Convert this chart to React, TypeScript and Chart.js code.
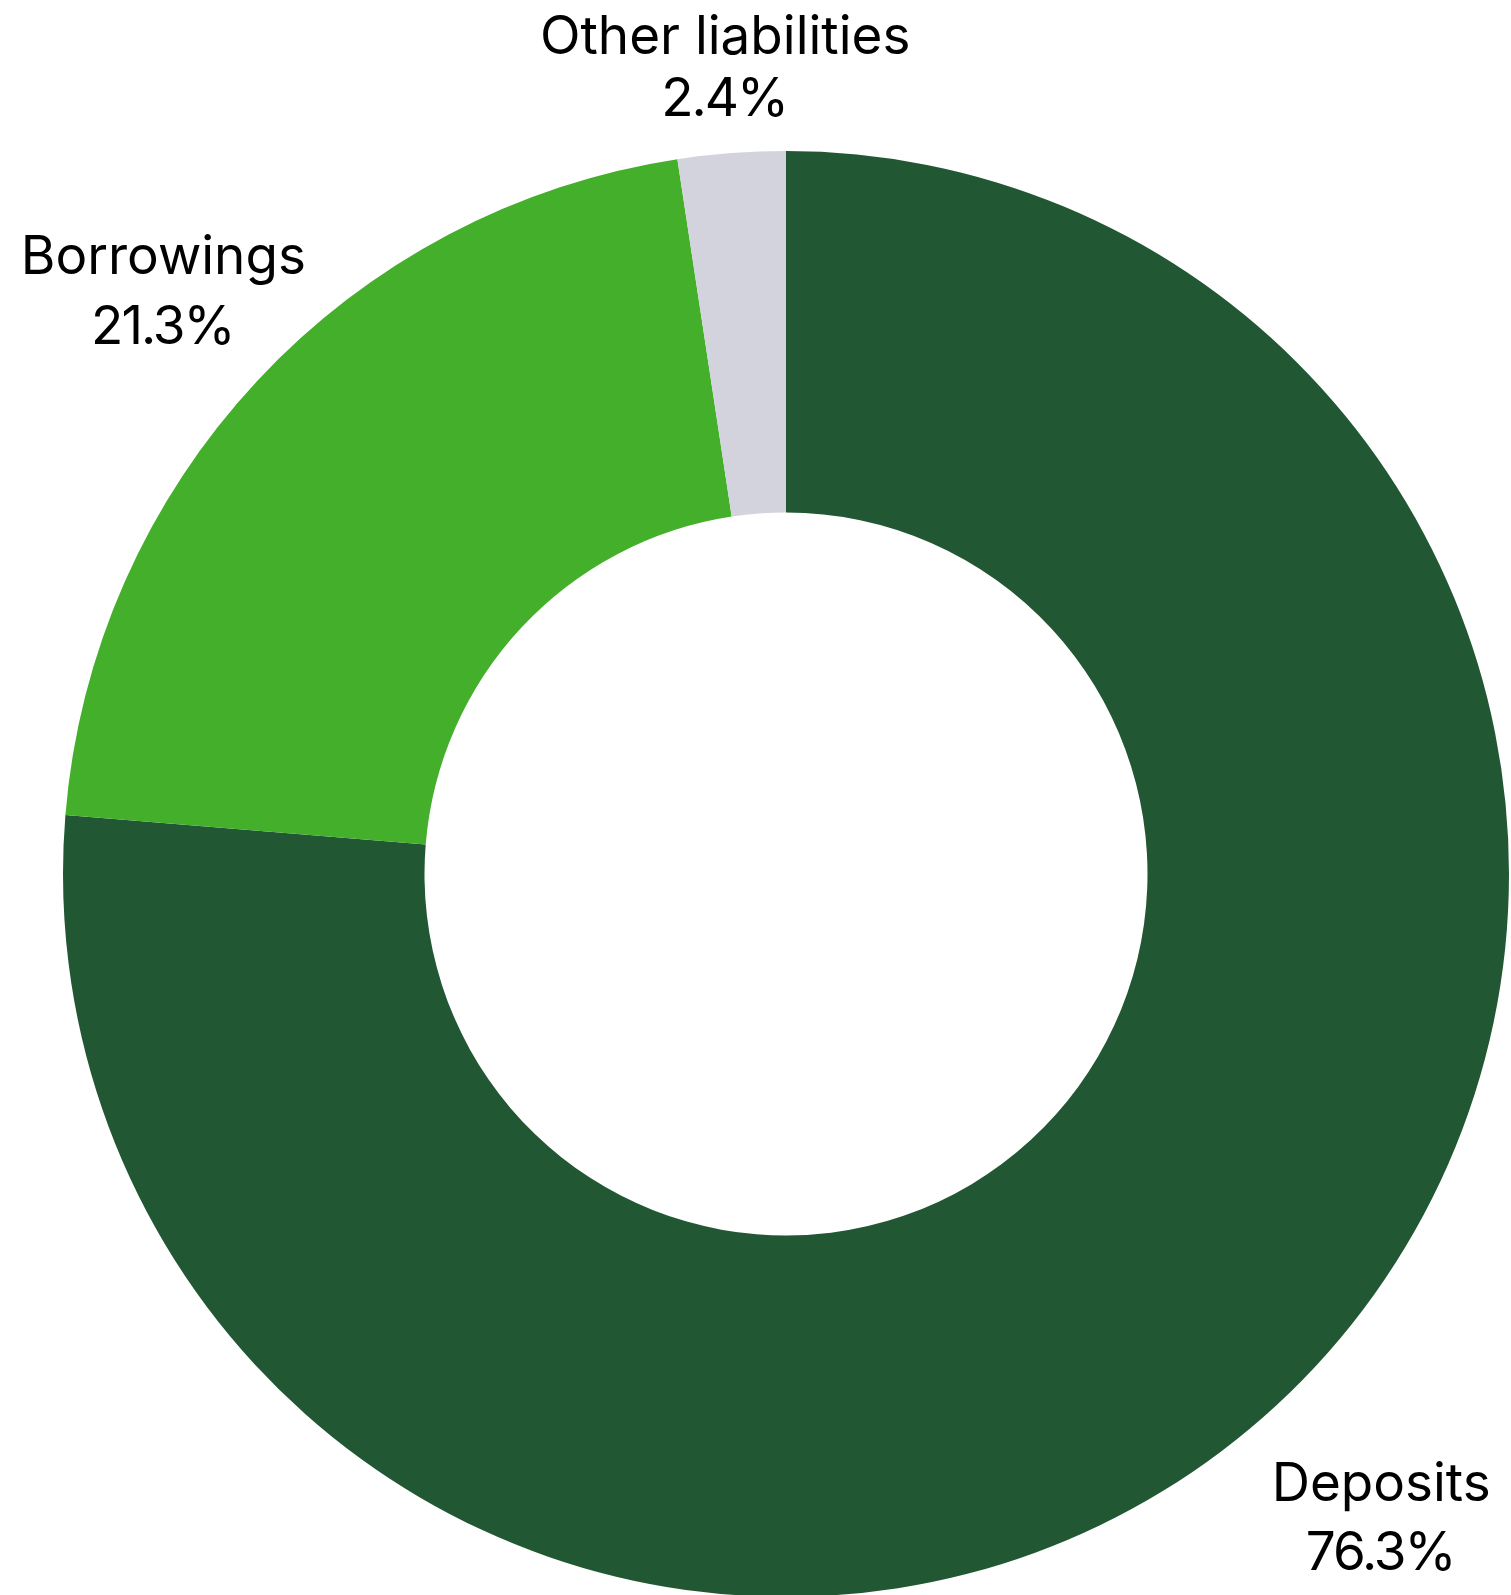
import React, { useEffect, useRef } from "react";
import { Chart, registerables } from "chart.js";

Chart.register(...registerables);

const categories = ["Deposits", "Borrowings", "Other liabilities"];
const shares = [76.3, 21.3, 2.4];
const sliceColors = ["#225733", "#44AF2A", "#D2D3DD"];
const labelDistance = [1.2148, 1.178, 1.117];
const labelLineGap = [69, 70, 62];

const labelPlugin = {
  id: "outerLabels",
  afterDraw(chart: any) {
    const ctx = chart.ctx;
    const meta = chart.getDatasetMeta(0);
    ctx.save();
    ctx.font = "53px Inter";
    ctx.fillStyle = "#000000";
    ctx.textAlign = "center";
    ctx.textBaseline = "middle";
    meta.data.forEach((arc: any, i: number) => {
      const { x, y, startAngle, endAngle, outerRadius } = arc.getProps(
        ["x", "y", "startAngle", "endAngle", "outerRadius"],
        true
      );
      const mid = (startAngle + endAngle) / 2;
      const d = outerRadius * labelDistance[i];
      const lx = x + Math.cos(mid) * d;
      const ly = y + Math.sin(mid) * d;
      const half = labelLineGap[i] / 2;
      const value = chart.data.datasets[0].data[i] as number;
      (ctx as any).letterSpacing = "0px";
      ctx.fillText(String(chart.data.labels[i]), lx, ly - half);
      (ctx as any).letterSpacing = "-2px";
      ctx.fillText(value.toFixed(1) + "%", lx - 1, ly + half);
    });
    ctx.restore();
  },
};

export default function App() {
  const ref = useRef<HTMLCanvasElement | null>(null);
  useEffect(() => {
    document.body.style.margin = "0";
    document.body.style.overflow = "hidden";
    const chart = new Chart(ref.current as HTMLCanvasElement, {
      type: "doughnut",
      data: {
        labels: categories,
        datasets: [
          {
            data: shares,
            backgroundColor: sliceColors,
            borderWidth: 0,
          },
        ],
      },
      options: {
        responsive: false,
        animation: false,
        cutout: "50%",
        layout: { padding: { left: 63, right: 2, top: 151, bottom: 43 } },
        plugins: {
          legend: { display: false },
          tooltip: { enabled: false },
        },
      },
      plugins: [labelPlugin],
    });
    return () => chart.destroy();
  }, []);
  return (
    <div
      style={{
        position: "fixed",
        left: 0,
        top: 0,
        width: 1511,
        height: 1595,
        overflow: "hidden",
        background: "#ffffff",
      }}
    >
      <canvas ref={ref} width={1511} height={1640} style={{ width: 1511, height: 1640, display: "block" }} />
    </div>
  );
}
